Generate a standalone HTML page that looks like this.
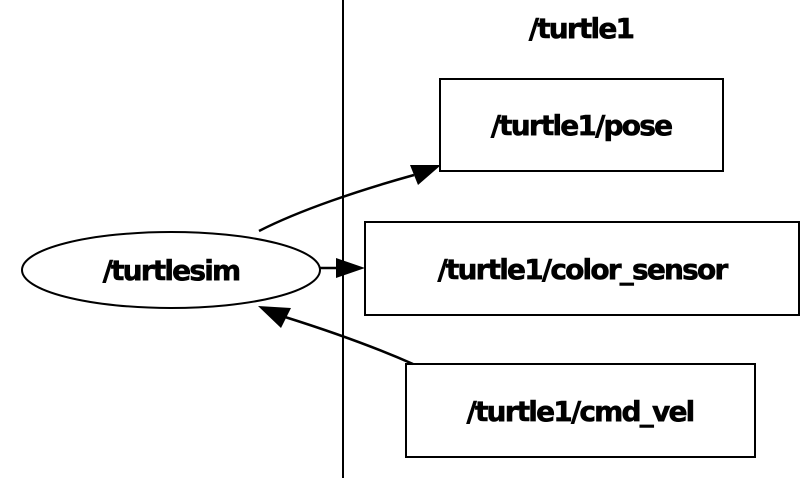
<!DOCTYPE html>
<html><head><style>
html,body{margin:0;padding:0;background:#fff;width:806px;height:478px;overflow:hidden}
text{font-family:"DejaVu Sans","Liberation Sans",sans-serif;font-weight:bold;font-size:28px;letter-spacing:-1.8px;stroke:#000;stroke-width:0.6px}
</style></head><body>
<svg width="806" height="478" viewBox="0 0 806 478" xmlns="http://www.w3.org/2000/svg">
<line x1="343" y1="0" x2="343" y2="478" stroke="#000" stroke-width="2"/>
<text x="581" y="38" text-anchor="middle">/turtle1</text>
<ellipse cx="171" cy="270" rx="149" ry="38" fill="none" stroke="#000" stroke-width="2"/>
<text x="171" y="280" text-anchor="middle">/turtlesim</text>
<rect x="440" y="79" width="283" height="92" fill="none" stroke="#000" stroke-width="2"/>
<text x="581" y="135" text-anchor="middle">/turtle1/pose</text>
<rect x="365" y="222" width="434" height="93" fill="none" stroke="#000" stroke-width="2"/>
<text x="582" y="279" text-anchor="middle">/turtle1/color_sensor</text>
<rect x="406" y="364" width="349" height="93" fill="none" stroke="#000" stroke-width="2"/>
<text x="580" y="421" text-anchor="middle">/turtle1/cmd_vel</text>
<path d="M259,231 C300,210 360,190 414,175" fill="none" stroke="#000" stroke-width="2.5"/>
<polygon points="441,165 410,165 418,185" fill="#000"/>
<line x1="320" y1="268" x2="337" y2="268" stroke="#000" stroke-width="2.5"/>
<polygon points="365,268 336,258 336,278" fill="#000"/>
<path d="M413,364 C370,345 320,328 285,317" fill="none" stroke="#000" stroke-width="2.5"/>
<polygon points="258,306 291,308 281,328" fill="#000"/>
</svg>
</body></html>
